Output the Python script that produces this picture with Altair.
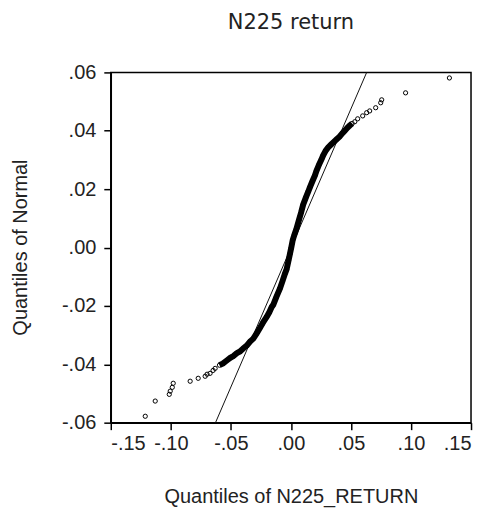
import altair as alt
import pandas as pd

# Quantiles
# (x = quantiles of N225_RETURN, y = quantiles of Normal)
lower_tail_x = [-0.1213, -0.1130, -0.1013, -0.1005, -0.0988, -0.0980, -0.0839,
                -0.0772, -0.0714, -0.0698, -0.0673, -0.0648, -0.0631]
lower_tail_y = [-0.0578, -0.0526, -0.0503, -0.0492, -0.0479, -0.0465, -0.0458,
                -0.0448, -0.0441, -0.0434, -0.0431, -0.0421, -0.0414]

body_x = [-0.0595, -0.0565, -0.0534, -0.0505, -0.0479, -0.0451, -0.0424, -0.0395,
          -0.0368, -0.0340, -0.0313, -0.0285, -0.0257, -0.0243, -0.0230, -0.0202,
          -0.0180, -0.0160, -0.0147, -0.0120, -0.0091, -0.0070, -0.0050, -0.0036,
          -0.0020, -0.0008, 0.0003, 0.0015, 0.0030, 0.0047, 0.0065, 0.0085,
          0.0102, 0.0125, 0.0145, 0.0158, 0.0180, 0.0200, 0.0213, 0.0235,
          0.0255, 0.0268, 0.0290, 0.0310, 0.0335, 0.0358, 0.0379, 0.0405,
          0.0430, 0.0449, 0.0470, 0.0490, 0.0510]
body_y = [-0.0403, -0.0397, -0.0387, -0.0378, -0.0372, -0.0362, -0.0356, -0.0345,
          -0.0336, -0.0322, -0.0312, -0.0294, -0.0275, -0.0265, -0.0255, -0.0238,
          -0.0222, -0.0204, -0.0196, -0.0168, -0.0140, -0.0115, -0.0090, -0.0075,
          -0.0045, -0.0022, 0.0000, 0.0025, 0.0045, 0.0065, 0.0092, 0.0120,
          0.0147, 0.0172, 0.0192, 0.0206, 0.0228, 0.0247, 0.0263, 0.0285,
          0.0302, 0.0315, 0.0332, 0.0343, 0.0353, 0.0362, 0.0370, 0.0380,
          0.0392, 0.0400, 0.0410, 0.0418, 0.0425]

upper_tail_x = [0.0532, 0.0556, 0.0598, 0.0631, 0.0656, 0.0706, 0.0748, 0.0756,
                0.0955, 0.1320]
upper_tail_y = [0.0431, 0.0441, 0.0451, 0.0462, 0.0468, 0.0479, 0.0496, 0.0506,
                0.0530, 0.0581]

# Reference line endpoints
ref_x = [-0.0628, 0.0631]
ref_y = [-0.06, 0.06]

x_ticks = [-0.15, -0.10, -0.05, 0.00, 0.05, 0.10, 0.15]
y_ticks = [-0.06, -0.04, -0.02, 0.00, 0.02, 0.04, 0.06]

chart_title = ["N225 return"]

points = pd.DataFrame({
    "x": lower_tail_x + body_x + upper_tail_x,
    "y": lower_tail_y + body_y + upper_tail_y,
})
body = pd.DataFrame({"x": body_x, "y": body_y})
ref = pd.DataFrame({"x": ref_x, "y": ref_y})
title_df = pd.DataFrame({"t": chart_title})

FONT = "Liberation Sans"
label_expr = ("replace(replace(format(datum.value, '.2f'), '\u2212', '-'), '0.', '.')")

x_enc = alt.X("x:Q", scale=alt.Scale(domain=[-0.15, 0.15], nice=False, zero=False),
              axis=alt.Axis(values=x_ticks, labelExpr=label_expr, grid=False,
                            title="Quantiles of N225_RETURN",
                            titleY=80, titleBaseline="alphabetic",
                            labelPadding=4))
y_enc = alt.Y("y:Q", scale=alt.Scale(domain=[-0.06, 0.06], nice=False, zero=False),
              axis=alt.Axis(values=y_ticks, labelExpr=label_expr, grid=False,
                            title="Quantiles of Normal",
                            titleX=-90, titleY=175, titleBaseline="middle",
                            titleAlign="center", titleAngle=270,
                            labelPadding=8))

ref_line = alt.Chart(ref).mark_line(color="#111111", strokeWidth=1).encode(
    x=x_enc, y=y_enc, order="y:Q")
body_line = alt.Chart(body).mark_line(color="#000000", strokeWidth=6).encode(
    x=x_enc, y=y_enc, order="y:Q")
pts = alt.Chart(points).mark_point(shape="circle", filled=False, size=18,
                                   strokeWidth=1, color="#000000", opacity=1).encode(
    x=x_enc, y=y_enc)
title_mark = alt.Chart(title_df).mark_text(
    font="DejaVu Sans", fontSize=21, color="#222222", align="center",
    baseline="alphabetic"
).encode(text="t:N", x=alt.value(180.5), y=alt.value(-44))

chart = alt.layer(ref_line, body_line, pts, title_mark).properties(
    width=361, height=351,
    autosize=alt.AutoSizeParams(type="none"),
    padding={"left": 103, "top": 64, "right": 10, "bottom": 100},
).configure(
    background="white"
).configure_view(
    stroke="#000000", strokeWidth=1.5
).configure_axis(
    domainColor="#000000", domainWidth=1.5, tickColor="#000000", tickWidth=1.5,
    tickSize=7, labelFont=FONT, labelFontSize=20, labelColor="#222222",
    titleFont=FONT, titleFontSize=20, titleFontWeight="normal", titleColor="#222222"
)

chart.save("out.html", embed_options={"renderer": "svg", "actions": False})
